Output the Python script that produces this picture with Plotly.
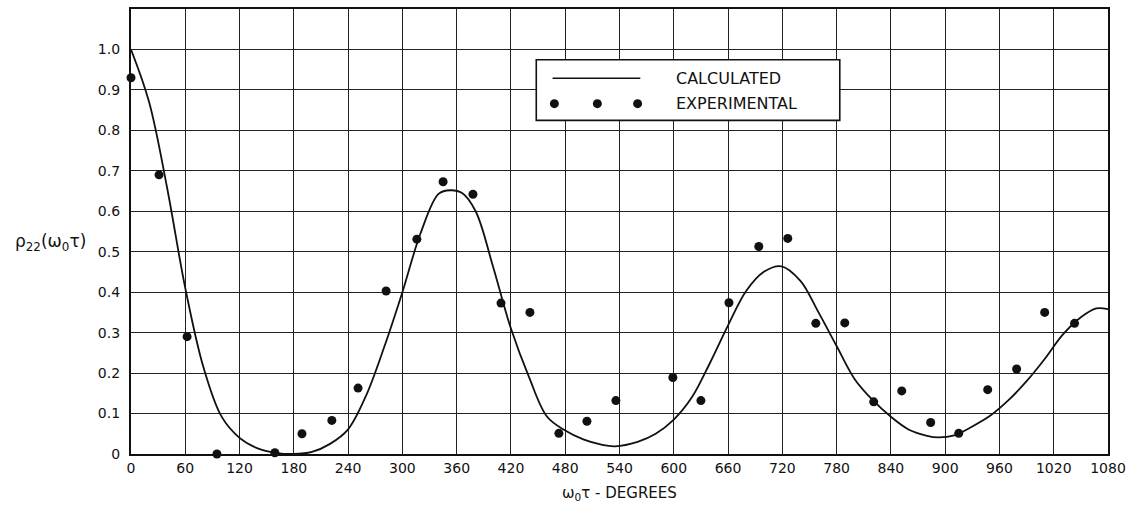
import plotly.graph_objects as go

# Calculated curve
calc_deg = [0, 20, 40, 60, 80, 100, 120, 140, 160, 180, 200, 220, 240, 260, 280, 300, 320,
            340, 353, 366, 381, 400, 420, 440, 460, 480, 500, 520, 535, 560, 580, 600, 620,
            640, 660, 680, 700, 719, 740, 760, 780, 800, 820, 840, 860, 880, 892, 910, 930,
            950, 970, 990, 1010, 1030, 1050, 1067, 1080]
calc_val = [1.0, 0.87, 0.657, 0.41, 0.215, 0.093, 0.04, 0.014, 0.003, 0.0, 0.005, 0.025,
            0.061, 0.145, 0.265, 0.4, 0.545, 0.643, 0.652, 0.645, 0.6, 0.465, 0.31, 0.19,
            0.092, 0.058, 0.036, 0.023, 0.019, 0.03, 0.05, 0.085, 0.14, 0.225, 0.318, 0.403,
            0.451, 0.464, 0.428, 0.35, 0.267, 0.185, 0.133, 0.092, 0.06, 0.045, 0.041, 0.046,
            0.068, 0.095, 0.133, 0.18, 0.235, 0.295, 0.338, 0.36, 0.358]

# Experimental points
exp_deg = [0, 31, 62, 95, 159, 189, 222, 251, 282, 316, 345, 378, 409, 441, 473, 504, 536,
           599, 630, 661, 694, 726, 757, 789, 821, 852, 884, 915, 947, 979, 1010, 1043]
exp_val = [0.93, 0.69, 0.29, 0.0, 0.003, 0.05, 0.083, 0.163, 0.403, 0.531, 0.673, 0.642,
           0.373, 0.35, 0.051, 0.081, 0.132, 0.189, 0.132, 0.374, 0.513, 0.533, 0.323, 0.324,
           0.129, 0.156, 0.078, 0.051, 0.159, 0.21, 0.35, 0.323]

x_ticks = list(range(0, 1081, 60))
x_tick_text = [str(v) for v in x_ticks]
y_ticks = [round(i * 0.1, 1) for i in range(11)]
y_tick_text = ["0"] + [f"{v:.1f}" for v in y_ticks[1:]]

FONT = "DejaVu Sans"
INK = "#111111"

fig = go.Figure()
fig.add_trace(go.Scatter(x=calc_deg, y=calc_val, mode="lines",
                         line=dict(color=INK, width=1.8, shape="spline", smoothing=1.0),
                         showlegend=False, cliponaxis=False))
fig.add_trace(go.Scatter(x=exp_deg, y=exp_val, mode="markers",
                         marker=dict(color=INK, size=9),
                         showlegend=False, cliponaxis=False))

# Custom legend (box, line sample, three dots, texts)
shapes = [
    dict(type="rect", xref="x", yref="y", x0=448, x1=783.5, y0=0.8247, y1=0.9746,
         line=dict(color=INK, width=1.6), fillcolor="white", layer="above"),
    dict(type="line", xref="x", yref="y", x0=466, x1=563, y0=0.929, y1=0.929,
         line=dict(color=INK, width=1.5), layer="above"),
]
for xd in (468, 515.5, 560):
    shapes.append(dict(type="circle", xref="x", yref="y", xsizemode="pixel", ysizemode="pixel",
                       xanchor=xd, yanchor=0.866, x0=-4.5, x1=4.5, y0=-4.5, y1=4.5,
                       fillcolor=INK, line=dict(color=INK, width=0), layer="above"))

annotations = [
    dict(x=600.5, y=0.929, xref="x", yref="y", text="CALCULATED", showarrow=False,
         xanchor="left", yanchor="middle", font=dict(family=FONT, size=16, color=INK)),
    dict(x=600.5, y=0.866, xref="x", yref="y", text="EXPERIMENTAL", showarrow=False,
         xanchor="left", yanchor="middle", font=dict(family=FONT, size=16, color=INK)),
    dict(xref="paper", yref="paper", x=(50 - 131) / 980, y=(454 - 242) / 447,
         text="ρ<sub>22</sub>(ω<sub>0</sub>τ)", showarrow=False,
         xanchor="center", yanchor="middle", font=dict(family=FONT, size=17, color=INK)),
    dict(xref="paper", yref="paper", x=(621 - 131) / 980, y=(454 - 494) / 447,
         text="ω<sub>0</sub>τ - DEGREES", showarrow=False,
         xanchor="center", yanchor="middle", font=dict(family=FONT, size=15, color=INK)),
]

fig.update_layout(
    width=1133, height=509,
    margin=dict(l=131, r=22, t=7, b=55),
    paper_bgcolor="white", plot_bgcolor="white",
    shapes=shapes,
    annotations=annotations,
    xaxis=dict(range=[0, 1080], tickvals=x_ticks, ticktext=x_tick_text,
               showgrid=True, gridcolor="#222", gridwidth=1.2, zeroline=False,
               showline=True, linecolor=INK, linewidth=2.2, mirror=True, ticks="",
               tickfont=dict(family=FONT, size=14, color=INK)),
    yaxis=dict(range=[0, 1.1], tickvals=y_ticks, ticktext=y_tick_text,
               showgrid=True, gridcolor="#222", gridwidth=1.2, zeroline=False,
               showline=True, linecolor=INK, linewidth=2.2, mirror=True, ticks="",
               ticklabelstandoff=6,
               tickfont=dict(family=FONT, size=14, color=INK)),
)
fig.write_html("out.html")
